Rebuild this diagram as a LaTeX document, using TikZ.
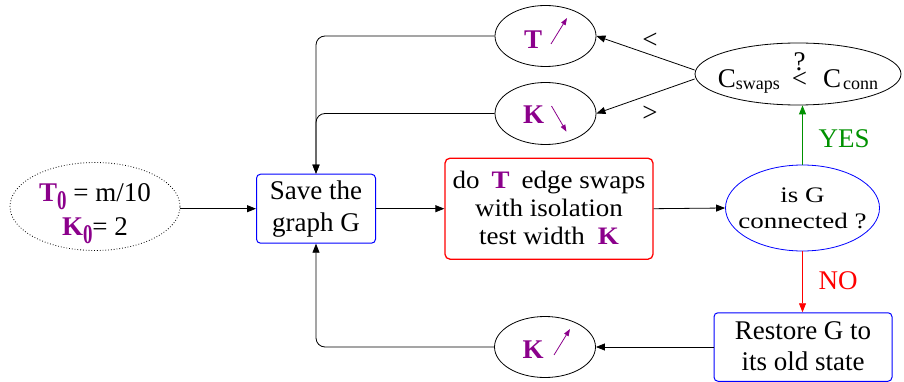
\documentclass[tikz,border=0pt]{standalone}
\usepackage{fontspec}
\setmainfont{Liberation Serif}
\usetikzlibrary{arrows.meta,shapes.geometric}
\definecolor{pur}{RGB}{139,0,139}
\definecolor{grn}{RGB}{0,145,0}
\newcommand\myT{\textcolor{pur}{\bfseries T}}
\newcommand\myK{\textcolor{pur}{\bfseries K}}
\newcommand\myzero{\raisebox{-8pt}{\textcolor{pur}{\scalebox{0.7}[1]{\bfseries 0}}}}
\newcommand\ntext[3]{\makebox[0pt]{\raisebox{#1}[0pt][0pt]{\fontsize{27}{#2}\selectfont\begin{tabular}[t]{@{}c@{}}#3\end{tabular}}}}
\newcommand\ntextsq[4]{\makebox[0pt]{\raisebox{#1}[0pt][0pt]{\scalebox{1}[#4]{\fontsize{27}{#2}\selectfont\begin{tabular}[t]{@{}c@{}}#3\end{tabular}}}}}
\begin{document}
\begin{tikzpicture}[x=1pt,y=-1pt,
  conn/.style={draw=black, line width=0.8pt, -{Triangle[length=9pt,width=7pt]}},
  oval/.style={ellipse, draw, inner sep=0pt, line width=0.8pt},
  boxnode/.style={rectangle, draw, rounded corners=4pt, inner sep=0pt},
  lbl/.style={inner sep=0pt, font=\fontsize{27}{32}\selectfont},
  parrow/.style={draw=pur, line width=0.8pt, -{Triangle[length=7pt,width=5pt]}}]
\useasboundingbox (0,0) rectangle (904,382);

% nodes
\node[oval, dotted, minimum width=170pt, minimum height=88pt] (start) at (95,206.5)
  {\ntext{4.8pt}{34}{\myT\myzero\ = m/10\\\myK\myzero= 2}};
\node[boxnode, draw=blue, line width=1pt, minimum width=119pt, minimum height=69pt] (save) at (316,208.7)
  {\ntext{9.4pt}{32.4}{Save the\\graph G}};
\node[boxnode, draw=red, line width=1.3pt, rounded corners=5pt, minimum width=208pt, minimum height=101pt] (work) at (549,208.7)
  {\ntextsq{20.4pt}{30.4}{do\hspace{12pt}\myT\hspace{12pt}edge swaps\\with isolation\\test width\hspace{13pt}\myK}{0.93}};
\node[oval, draw=blue, minimum width=154pt, minimum height=86pt] (isG) at (802.5,208)
  {\ntextsq{5.7pt}{31.7}{is G\\connected ?}{0.82}};
\node[oval, minimum width=206pt, minimum height=62pt] (cswaps) at (798,74)
  {\ntext{-14pt}{32}{C\raisebox{-2pt}{\fontsize{18}{18}\selectfont swaps}\hspace{12pt}\rlap{\makebox[15.2pt]{\raisebox{17pt}{?}}}<\hspace{16pt}C\hspace{2pt}\raisebox{-2pt}{\fontsize{18}{18}\selectfont conn}}};
\node[oval, minimum width=101pt, minimum height=61pt] (T) at (545.5,36)
  {\ntext{-12.3pt}{32}{\myT\hspace{25pt}\mbox{}}};
\node[oval, minimum width=101pt, minimum height=62pt] (K) at (545.5,113.5)
  {\ntext{-9.8pt}{32}{\myK\hspace{24pt}\mbox{}}};
\node[oval, minimum width=101pt, minimum height=61pt] (K2) at (545,347)
  {\ntext{-11.3pt}{32}{\myK\hspace{24pt}\mbox{}}};
\node[boxnode, draw=blue, line width=1pt, minimum width=178pt, minimum height=68.5pt] (restore) at (803,347)
  {\ntext{7.7pt}{30.7}{Restore G to\\its old state}};

% labels
\node[lbl] (lt) at (650,40.5) {<};
\node[lbl] (gt) at (650,113.5) {>};
\node[lbl, text=grn] (yes) at (844,139) {YES};
\node[lbl, text=red] (no) at (838,281) {NO};

% purple arrows inside ellipses
\draw[parrow] ([shift={(5.5,8)}]T.center) -- ++(16,-26);
\draw[parrow] ([shift={(6,-7.5)}]K.center) -- ++(15,25.7);
\draw[parrow] ([shift={(9,8)}]K2.center) -- ++(16,-26);

% connectors
\draw[conn] (start.east |- save.west) -- (save.west);
\draw[conn] (save.east) -- (work.west);
\draw[conn] (work.east) -- (isG.west);
\draw[conn, draw=grn] (isG.north) -- (isG.north |- cswaps.south);
\draw[conn] ([yshift=4pt]cswaps.west) -- (T.east);
\draw[conn] ([yshift=-5pt]cswaps.west) -- (K.east);
\draw[conn, rounded corners=9pt] (T.west) -| (save.north);
\draw[conn, rounded corners=9pt] (K.west) -| (save.north);
\draw[conn, draw=red] (isG.south) -- (isG.south |- restore.north);
\draw[conn] (restore.west) -- (K2.east);
\draw[conn, rounded corners=9pt] (K2.west) -| (save.south);
\end{tikzpicture}
\end{document}
